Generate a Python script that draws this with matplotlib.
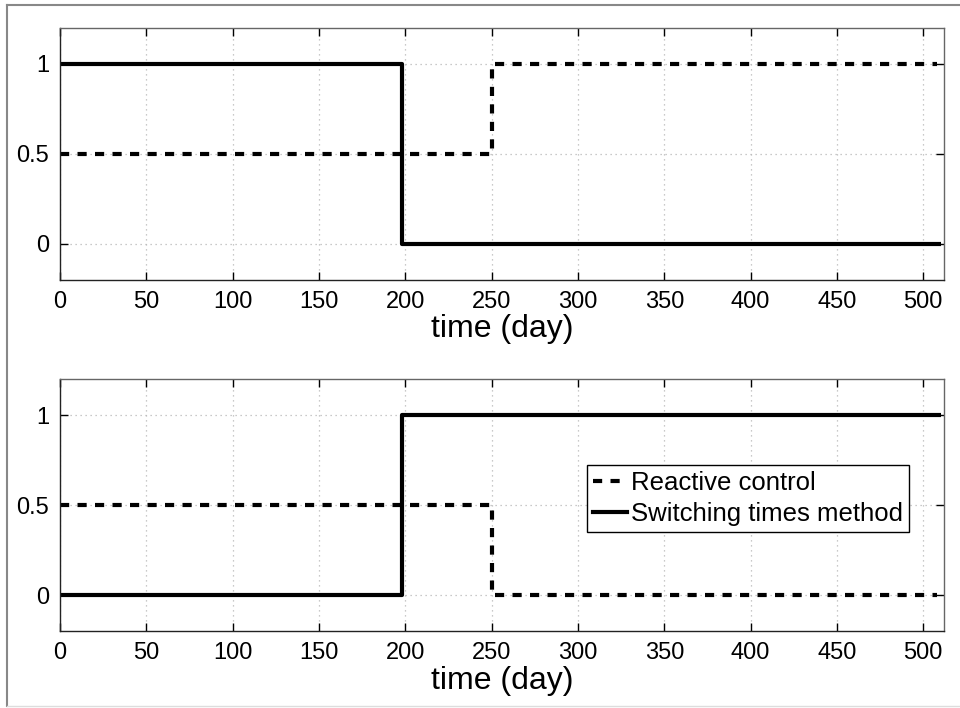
import matplotlib
matplotlib.use("Agg")
import matplotlib.pyplot as plt
from matplotlib.lines import Line2D

plt.rcParams['font.family'] = ['Liberation Sans', 'DejaVu Sans']

# Control profiles (piecewise constant, step after each switching instant)
switch_time = [0, 198, 510]
switch_u1 = [1, 0, 0]
switch_u2 = [0, 1, 1]

reactive_time = [0, 250, 508]
reactive_u1 = [0.5, 1, 1]
reactive_u2 = [0.5, 0, 0]

x_ticks = [0, 50, 100, 150, 200, 250, 300, 350, 400, 450, 500]
y_ticks = [0, 0.5, 1]
y_ticklabels = ['0', '0.5', '1']

W, H = 960, 708
fig = plt.figure(figsize=(W / 100, H / 100), dpi=100)

def px_axes(left, top, right, bottom):
    return fig.add_axes([left / W, 1 - bottom / H, (right - left) / W, (bottom - top) / H])

ax1 = px_axes(60, 28, 944, 280)
ax2 = px_axes(60, 379, 944, 631)

lw = 3.0
dash = (0, (2.2, 2.0))

def style(ax):
    ax.set_xlim(0, 512)
    ax.set_ylim(-0.2, 1.2)
    ax.set_xticks(x_ticks)
    ax.set_yticks(y_ticks)
    ax.set_yticklabels(y_ticklabels)
    ax.tick_params(direction='in', length=6, width=1, top=True, right=True,
                   labelsize=17, colors='black', pad=8)
    ax.grid(True, color='#b8b8b8', linestyle=(0, (1, 3)), linewidth=0.9)
    for side in ('left', 'bottom'):
        ax.spines[side].set_color('#222222')
        ax.spines[side].set_linewidth(1.0)
    for side in ('top', 'right'):
        ax.spines[side].set_color('#666666')
        ax.spines[side].set_linewidth(1.0)
    ax.set_xlabel('time (day)', fontsize=23, labelpad=1)

ax1.plot(switch_time, switch_u1, drawstyle='steps-post', color='black', lw=lw,
         solid_capstyle='butt')
ax1.plot(reactive_time, reactive_u1, drawstyle='steps-post', color='black', lw=lw,
         linestyle=dash, dash_capstyle='butt')
style(ax1)

ax2.plot(reactive_time, reactive_u2, drawstyle='steps-post', color='black', lw=lw,
         linestyle=dash, dash_capstyle='butt', label='Reactive control')
ax2.plot(switch_time, switch_u2, drawstyle='steps-post', color='black', lw=lw,
         solid_capstyle='butt', label='Switching times method')
style(ax2)

handles = [Line2D([], [], color='black', lw=lw, linestyle=dash),
           Line2D([], [], color='black', lw=lw)]
leg = fig.legend(handles, ['Reactive control', 'Switching times method'],
                 loc='upper left', bbox_to_anchor=(587 / W, 1 - 465 / H),
                 borderaxespad=0, fancybox=False, framealpha=1,
                 edgecolor='black', fontsize=18.5, handlelength=1.35,
                 handletextpad=0.15, labelspacing=0.28, borderpad=0.22)
leg.get_frame().set_linewidth(1.0)

# Outer frame lines (left, top and a faint bottom edge)
fig.add_artist(Line2D([7 / W, 7 / W], [1 - 5 / H, 1 - 706 / H], color='#888888',
                      lw=1.5, transform=fig.transFigure))
fig.add_artist(Line2D([7 / W, 1.0], [1 - 5 / H, 1 - 5 / H], color='#888888',
                      lw=1.5, transform=fig.transFigure))
fig.add_artist(Line2D([7 / W, 1.0], [1 - 706 / H, 1 - 706 / H], color='#dddddd',
                      lw=1.0, transform=fig.transFigure))

fig.savefig('out.png', dpi=100)
